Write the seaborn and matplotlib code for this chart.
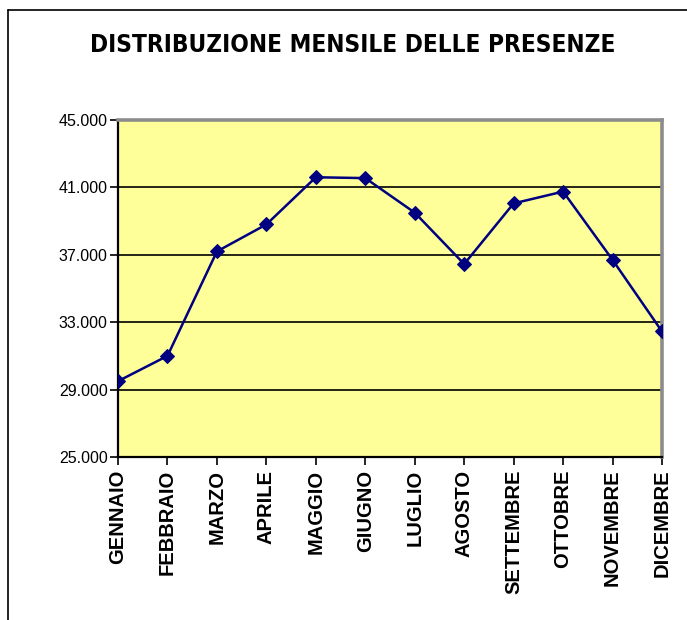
import matplotlib
matplotlib.use("Agg")
import matplotlib.pyplot as plt
from matplotlib.lines import Line2D
from matplotlib.ticker import FuncFormatter
from matplotlib import font_manager as fm
import seaborn as sns
import pandas as pd

months = ["GENNAIO", "FEBBRAIO", "MARZO", "APRILE", "MAGGIO", "GIUGNO",
          "LUGLIO", "AGOSTO", "SETTEMBRE", "OTTOBRE", "NOVEMBRE", "DICEMBRE"]
presenze = [29500, 31000, 37200, 38800, 41600, 41550,
            39500, 36450, 40050, 40750, 36700, 32450]
y_ticks = [25000, 29000, 33000, 37000, 41000, 45000]

df = pd.DataFrame({"pos": range(len(months)), "mese": months, "presenze": presenze})

sns.set_theme(style="white")
plt.rcParams["font.family"] = ["Liberation Sans", "DejaVu Sans"]
plt.rcParams["text.color"] = "black"
plt.rcParams["xtick.color"] = "black"
plt.rcParams["ytick.color"] = "black"

bold_path = fm.findfont(fm.FontProperties(family="Liberation Sans", weight="bold"))
month_font = fm.FontProperties(fname=bold_path, size=14.5)

fig = plt.figure(figsize=(6.87, 6.2), dpi=100)
ax = fig.add_axes([0.1718, 0.2629, 0.7918, 0.5436])
ax.set_facecolor("#FFFF99")

sns.lineplot(data=df, x="pos", y="presenze", ax=ax, color="#000080",
             linewidth=1.8, marker="D", markersize=7, markeredgecolor="#000080",
             zorder=5)

ax.set_xlim(0, len(months) - 1)
ax.set_ylim(y_ticks[0], y_ticks[-1])
ax.set_yticks(y_ticks)
ax.yaxis.set_major_formatter(FuncFormatter(lambda v, p: f"{int(v):,}".replace(",", ".")))
ax.tick_params(axis="y", labelsize=11.5, direction="out", length=6, width=1.2,
               left=True, pad=1.5, colors="black")
ax.tick_params(axis="x", direction="out", length=6, width=1.2, bottom=True, pad=3,
               colors="black")
ax.set_xticks(df["pos"])
ax.set_xticklabels(months, rotation=90, fontproperties=month_font)
ax.set_xlabel("")
ax.set_ylabel("")

for v in y_ticks[1:-1]:
    ax.axhline(v, color="black", linewidth=1.2, zorder=1)

for side in ["left", "bottom"]:
    ax.spines[side].set_color("black")
    ax.spines[side].set_linewidth(1.6)
for side in ["top", "right"]:
    ax.spines[side].set_color("#8c8c8c")
    ax.spines[side].set_linewidth(2.6)

fig.text(0.513, 0.927, "DISTRIBUZIONE MENSILE DELLE PRESENZE",
         ha="center", va="center", fontsize=17.5, fontweight="bold",
         fontstretch="condensed", color="black",
         family=["DejaVu Sans", "Liberation Sans"])

# outer frame
fig.add_artist(Line2D([8 / 687, 8 / 687], [0.0, 1 - 10 / 620], color="black",
                      linewidth=1.2, transform=fig.transFigure))
fig.add_artist(Line2D([8 / 687, 1.0], [1 - 10 / 620, 1 - 10 / 620], color="black",
                      linewidth=1.2, transform=fig.transFigure))

fig.savefig("out.png", dpi=100)
